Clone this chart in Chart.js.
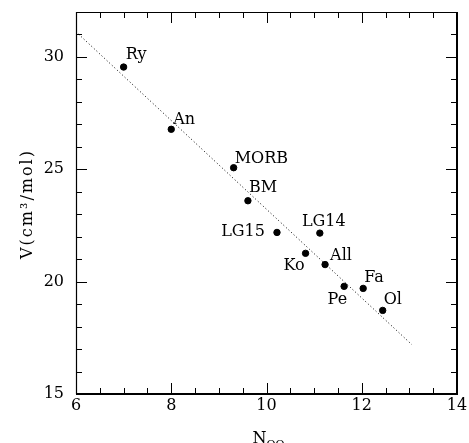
<!DOCTYPE html>
<html>
<head>
<meta charset="utf-8">
<script src="https://cdn.jsdelivr.net/npm/chart.js@4.4.0/dist/chart.umd.min.js"></script>
<style>
  html, body { margin: 0; padding: 0; background: #fff; }
  #wrap { width: 469px; height: 443px; position: relative; }
</style>
</head>
<body>
<div id="wrap"><canvas id="chart"></canvas></div>
<script>
// Dados: volume molar contra número de coordenação O-O
const nomes = ['Ry', 'An', 'MORB', 'BM', 'LG15', 'LG14', 'Ko', 'All', 'Pe', 'Fa', 'Ol'];
const valoresN = [7.0, 8.0, 9.31, 9.61, 10.22, 11.12, 10.82, 11.23, 11.63, 12.03, 12.44];
const valoresV = [29.55, 26.78, 25.07, 23.6, 22.19, 22.16, 21.26, 20.76, 19.79, 19.70, 18.72];

// Reta de ajuste (pontilhada)
const retaN = [6.0, 13.05];
const retaV = [31.12, 17.2];

// Marcas dos eixos
const ticksX = [6, 8, 10, 12, 14];
const ticksY = [15, 20, 25, 30];

const FONTE = '"DejaVu Serif", serif';

// Posição de cada rótulo em relação ao ponto: [dx, dy, alinhamento]
const posRotulos = {
    'Ry':   [2, -8, 'left'],
    'An':   [2, -5, 'left'],
    'MORB': [1, -5, 'left'],
    'BM':   [1, -9, 'left'],
    'LG15': [-12, 4, 'right'],
    'LG14': [4, -7, 'center'],
    'Ko':   [-1, 17, 'right'],
    'All':  [5, -5, 'left'],
    'Pe':   [3, 18, 'right'],
    'Fa':   [1, -6, 'left'],
    'Ol':   [1, -6, 'left']
};

// Plugin para moldura, marcas internas, rótulos e títulos
const molduraPlugin = {
    id: 'moldura',
    afterDatasetsDraw(chart) {
        const ctx = chart.ctx;
        const a = chart.chartArea;
        const sx = chart.scales.x;
        const sy = chart.scales.y;
        ctx.save();
        ctx.strokeStyle = '#000';

        // marcas no eixo x (embaixo e em cima)
        ctx.lineWidth = 1;
        for (let v = 6.5; v < 14; v += 0.5) {
            const px = Math.round(sx.getPixelForValue(v)) + 0.5;
            const len = (Math.abs(v % 2) < 1e-6) ? 11 : 6;
            ctx.beginPath();
            ctx.moveTo(px, a.bottom); ctx.lineTo(px, a.bottom - len);
            ctx.moveTo(px, a.top); ctx.lineTo(px, a.top + len);
            ctx.stroke();
        }
        // marcas no eixo y (esquerda e direita)
        for (let v = 16; v < 32; v += 1) {
            const py = Math.round(sy.getPixelForValue(v)) + 0.5;
            const len = (v % 5 === 0) ? 11 : 6;
            ctx.beginPath();
            ctx.moveTo(a.left, py); ctx.lineTo(a.left + len, py);
            ctx.moveTo(a.right, py); ctx.lineTo(a.right - len, py);
            ctx.stroke();
        }

        // moldura
        ctx.lineWidth = 1.2;
        ctx.beginPath();
        ctx.moveTo(a.left + 0.5, a.top + 0.5);
        ctx.lineTo(a.right, a.top + 0.5);
        ctx.moveTo(a.left + 0.5, a.top);
        ctx.lineTo(a.left + 0.5, a.bottom);
        ctx.stroke();
        ctx.lineWidth = 2;
        ctx.beginPath();
        ctx.moveTo(a.left, a.bottom);
        ctx.lineTo(a.right, a.bottom);
        ctx.lineTo(a.right, a.top);
        ctx.stroke();

        // rótulos dos pontos
        ctx.fillStyle = '#000';
        ctx.font = '16px ' + FONTE;
        ctx.textBaseline = 'alphabetic';
        const meta = chart.getDatasetMeta(1);
        meta.data.forEach((pt, i) => {
            const p = posRotulos[nomes[i]];
            ctx.textAlign = p[2];
            ctx.fillText(nomes[i], pt.x + p[0], pt.y + p[1]);
        });

        // título do eixo x: N com subscrito
        const cx = (a.left + a.right) / 2;
        ctx.textAlign = 'left';
        ctx.font = '16px ' + FONTE;
        const wN = ctx.measureText('N').width;
        ctx.font = '11px ' + FONTE;
        const wS = ctx.measureText('OO').width;
        const x0 = cx - (wN + wS) / 2 + 2;
        ctx.font = '16px ' + FONTE;
        ctx.fillText('N', x0, 443);
        ctx.font = '11px ' + FONTE;
        ctx.fillText('OO', x0 + wN, 448);

        // título do eixo y
        ctx.translate(32, 204);
        ctx.rotate(-Math.PI / 2);
        ctx.textAlign = 'center';
        ctx.font = '16px ' + FONTE;
        ctx.letterSpacing = '2px';
        ctx.fillText('V(cm³/mol)', 0, 0);
        ctx.restore();
    }
};

new Chart(document.getElementById('chart'), {
    type: 'scatter',
    data: {
        datasets: [
            {
                type: 'line',
                data: retaN.map((n, i) => ({ x: n, y: retaV[i] })),
                borderColor: '#000',
                borderWidth: 1,
                borderDash: [1, 2.5],
                pointRadius: 0,
                fill: false
            },
            {
                data: valoresN.map((n, i) => ({ x: n, y: valoresV[i] })),
                backgroundColor: '#000',
                borderColor: '#000',
                pointRadius: 3.2,
                pointHoverRadius: 3.2
            }
        ]
    },
    plugins: [molduraPlugin],
    options: {
        responsive: true,
        maintainAspectRatio: false,
        animation: false,
        events: [],
        layout: { padding: { top: 12, right: 12, left: 0, bottom: 0 } },
        plugins: {
            legend: { display: false },
            tooltip: { enabled: false }
        },
        scales: {
            x: {
                type: 'linear',
                min: 6,
                max: 14,
                border: { display: false },
                grid: { display: false, drawTicks: false },
                afterBuildTicks: (s) => { s.ticks = ticksX.map(v => ({ value: v })); },
                ticks: {
                    padding: 2,
                    color: '#000',
                    font: { family: FONTE, size: 16 }
                },
                afterFit: (s) => {
                    s.height = 49;
                    s.paddingLeft = 0; s.paddingRight = 0;
                    s.paddingTop = 0; s.paddingBottom = 0;
                }
            },
            y: {
                type: 'linear',
                min: 15,
                max: 32,
                border: { display: false },
                grid: { display: false, drawTicks: false },
                afterBuildTicks: (s) => { s.ticks = ticksY.map(v => ({ value: v })); },
                ticks: {
                    padding: 12,
                    color: '#000',
                    font: { family: FONTE, size: 16 }
                },
                afterFit: (s) => {
                    s.width = 76;
                    s.paddingLeft = 0; s.paddingRight = 0;
                    s.paddingTop = 0; s.paddingBottom = 0;
                }
            }
        }
    }
});
</script>
</body>
</html>
